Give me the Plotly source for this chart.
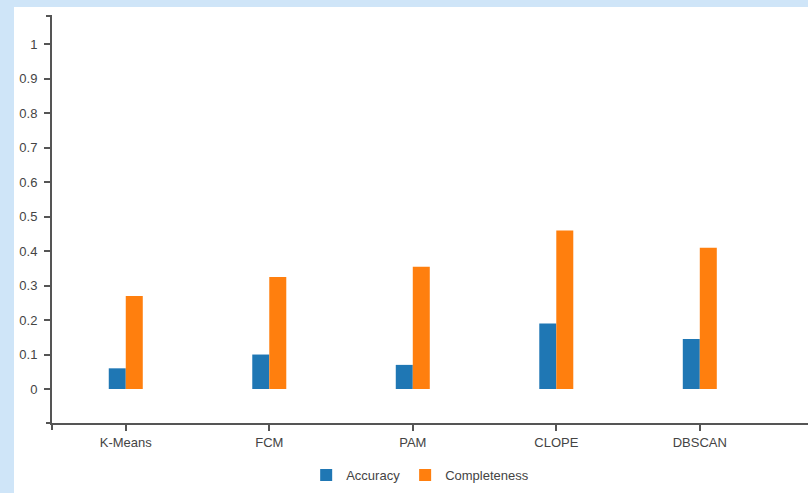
import plotly.graph_objects as go

# Clustering algorithms compared and their scores
algorithms = ["K-Means", "FCM", "PAM", "CLOPE", "DBSCAN"]
accuracy = [0.06, 0.10, 0.07, 0.19, 0.145]
completeness = [0.27, 0.325, 0.355, 0.46, 0.41]
y_ticks = [0, 0.1, 0.2, 0.3, 0.4, 0.5, 0.6, 0.7, 0.8, 0.9, 1]

BLUE = "#1f77b4"
ORANGE = "#ff7f0e"
AXIS = "#555555"
TEXT = "#444444"
FRAME = "#cfe5f8"

W, H = 808, 493
M_L, M_R, M_T, M_B = 52, 0, 16, 70
PW, PH = W - M_L - M_R, H - M_T - M_B


def px_x(p):
    """Horizontal pixel offset from the plot's left edge -> paper fraction."""
    return p / PW


def px_y(p):
    """Vertical pixel offset above the plot's bottom edge -> paper fraction."""
    return p / PH


fig = go.Figure()
fig.add_trace(go.Bar(name="Accuracy", x=algorithms, y=accuracy,
                     marker=dict(color=BLUE, line=dict(width=0))))
fig.add_trace(go.Bar(name="Completeness", x=algorithms, y=completeness,
                     marker=dict(color=ORANGE, line=dict(width=0))))

shapes = [
    # light-blue slide frame: left and top strips
    dict(type="rect", layer="below", xref="paper", yref="paper",
         x0=px_x(-M_L), x1=px_x(-38), y0=px_y(-M_B), y1=px_y(PH + M_T),
         fillcolor=FRAME, line=dict(width=0)),
    dict(type="rect", layer="below", xref="paper", yref="paper",
         x0=px_x(-M_L), x1=1.0, y0=px_y(PH + M_T - 7), y1=px_y(PH + M_T),
         fillcolor=FRAME, line=dict(width=0)),
    # outer ticks at the ends of the axis lines
    dict(type="line", xref="paper", yref="paper",
         x0=px_x(-6), x1=0, y0=1, y1=1, line=dict(color=AXIS, width=2)),
    dict(type="line", xref="paper", yref="paper",
         x0=px_x(-6), x1=0, y0=0, y1=0, line=dict(color=AXIS, width=2)),
    dict(type="line", xref="paper", yref="paper",
         x0=0, x1=0, y0=0, y1=px_y(-7), line=dict(color=AXIS, width=2)),
]

fig.update_layout(
    width=W, height=H,
    margin=dict(l=M_L, r=M_R, t=M_T, b=M_B),
    paper_bgcolor="white",
    plot_bgcolor="rgba(0,0,0,0)",
    barmode="group",
    bargap=0.763,
    bargroupgap=0,
    font=dict(family="Liberation Sans, Arial, sans-serif", size=13, color=TEXT),
    showlegend=True,
    legend=dict(orientation="h", x=0.487, xanchor="center", y=-0.128,
                yanchor="middle", itemwidth=30, font=dict(size=13, color=TEXT),
                bgcolor="rgba(0,0,0,0)", traceorder="normal"),
    xaxis=dict(range=[-0.514, 4.754], showline=True, linecolor=AXIS, linewidth=2,
               ticks="outside", ticklen=6, tickwidth=1.5, tickcolor=AXIS,
               showgrid=False, zeroline=False, fixedrange=True),
    yaxis=dict(range=[-0.0986, 1.082], showline=True, linecolor=AXIS, linewidth=2,
               ticks="outside", ticklen=6, tickwidth=1.5, tickcolor=AXIS,
               tickvals=y_ticks, ticktext=[f"{v:g}" for v in y_ticks],
               ticklabelstandoff=4,
               showgrid=False, zeroline=False, fixedrange=True),
    shapes=shapes,
)

fig.write_html("out.html", config={"displayModeBar": False})
